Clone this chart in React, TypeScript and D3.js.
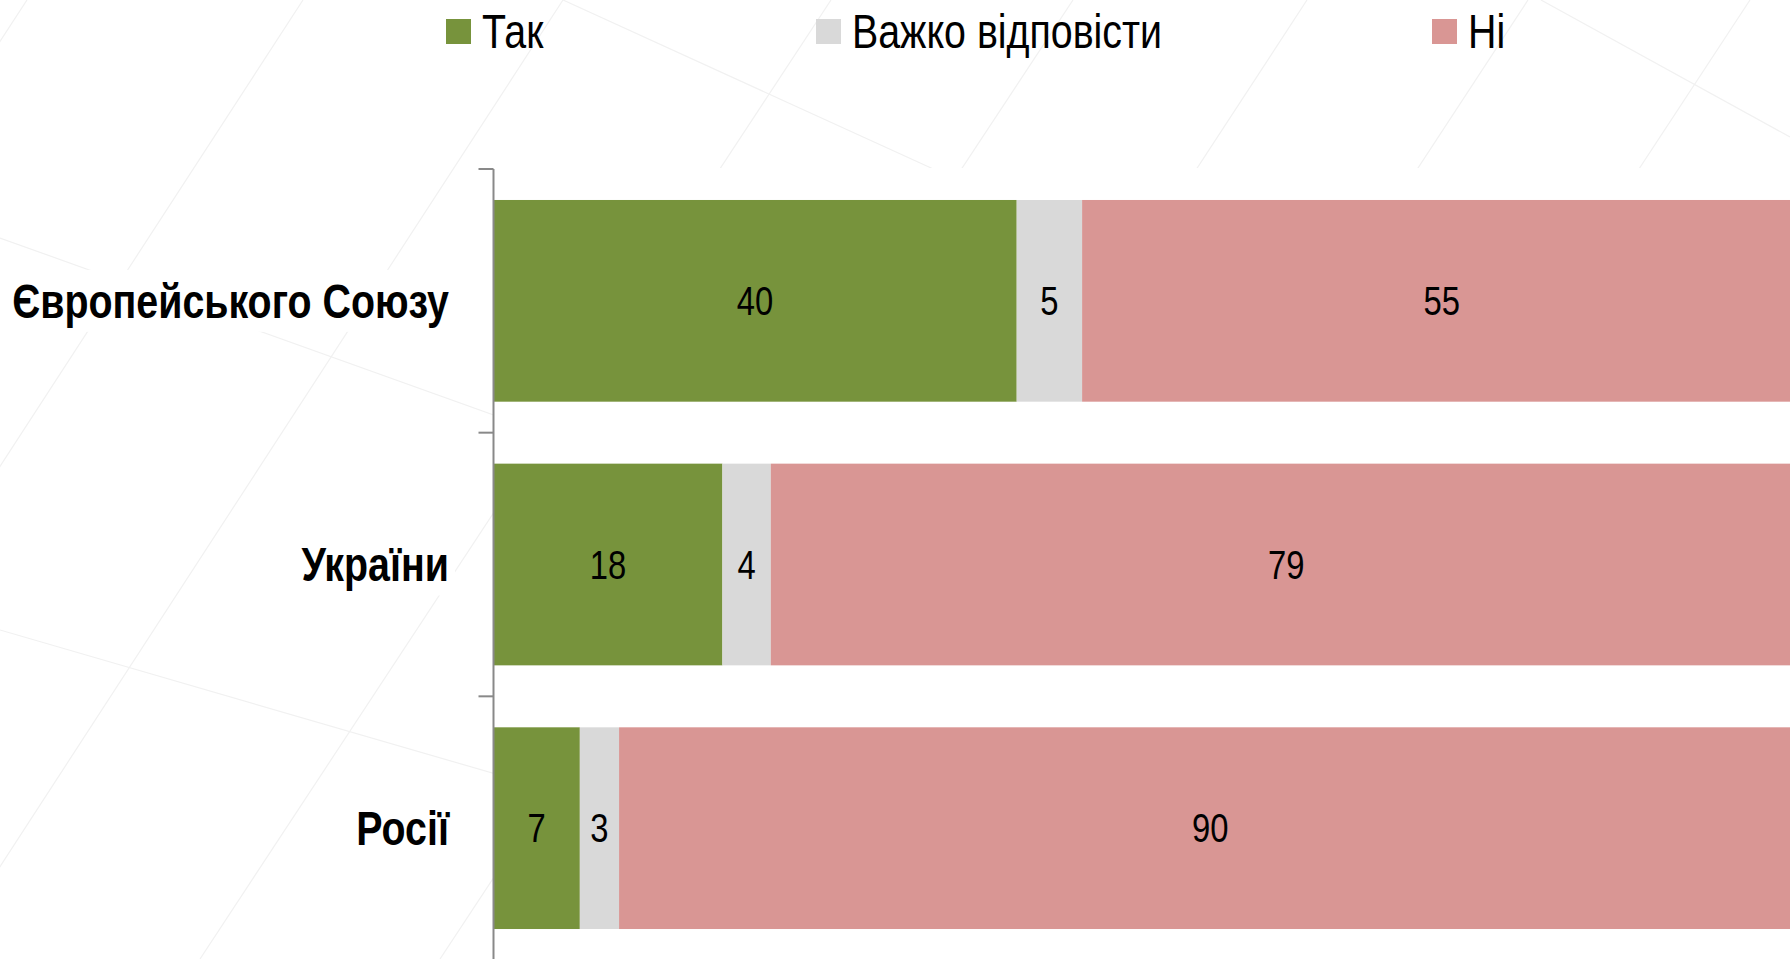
import * as d3 from 'd3'
import { useEffect, useRef } from 'react'

const width = 1790, height = 959

// categories (rows) and answer options (series)
const categories = ['Європейського Союзу', 'України', 'Росії']
const series = ['Так', 'Важко відповісти', 'Ні']
const yesValues = [40, 17.5, 6.6]
const hardValues = [5, 3.7, 3.0]
const noValues = [55, 78.8, 90.4]
const colors = ['#77933C', '#D9D9D9', '#D99694']

// faint decorative backdrop strokes
const backdrop = [
  [27, 0, -600, 959], [303, 0, -320, 959], [563, 0, -60, 959], [831, 0, 200, 959],
  [1073, 0, 440, 959], [1307, 0, 680, 959], [1528, 0, 900, 959], [1750, 0, 1120, 959],
  [0, 238, 1790, 880], [0, 630, 1790, 1150], [563, 0, 1790, 560], [1541, 0, 1790, 137],
]

const NARROW = 0.82
const font = "'Liberation Sans', Arial, sans-serif"

const chart = (svgNode: SVGSVGElement) => {
  const svg = d3.select(svgNode)
  svg.selectAll('*').remove()

  const rows = categories.map((c, i) => ({
    name: c,
    [series[0]]: yesValues[i],
    [series[1]]: hardValues[i],
    [series[2]]: noValues[i],
  }))
  const stacked = d3.stack<any>().keys(series)(rows)

  const x = d3.scaleLinear().domain([0, 100]).range([493.5, 493.5 + 1308])
  const y = d3.scaleBand().domain(categories).range([169, 960])
    .paddingInner(0.235).paddingOuter(0.1175)
  const color = d3.scaleOrdinal<string>().domain(series).range(colors)

  svg.append('rect').attr('width', width).attr('height', height).attr('fill', '#fff')

  svg.append('g')
    .attr('stroke', '#f1f1f1')
    .attr('stroke-width', 1.2)
    .selectAll('line')
    .data(backdrop)
    .join('line')
    .attr('x1', d => d[0]).attr('y1', d => d[1])
    .attr('x2', d => d[2]).attr('y2', d => d[3])

  // plot area is plain white
  svg.append('rect')
    .attr('x', x(0)).attr('y', 168)
    .attr('width', width).attr('height', height)
    .attr('fill', '#fff')

  const narrowText = (g: any, tx: number, ty: number) =>
    g.append('text').attr('transform', `translate(${tx},${ty}) scale(${NARROW},1)`)

  // bars
  const layer = svg.append('g')
    .selectAll('g')
    .data(stacked)
    .join('g')
    .attr('fill', d => color(d.key))

  layer.selectAll('rect')
    .data(d => d)
    .join('rect')
    .attr('x', d => x(d[0]))
    .attr('y', d => y(d.data.name)!)
    .attr('width', d => x(d[1]) - x(d[0]))
    .attr('height', y.bandwidth())

  const labels = svg.append('g')
    .attr('font-family', font)
    .attr('font-size', 40)
    .attr('text-anchor', 'middle')
    .attr('fill', '#000')
  stacked.forEach(s => {
    s.forEach(d => {
      narrowText(labels, (x(d[0]) + x(d[1])) / 2, y(d.data.name)! + y.bandwidth() / 2)
        .attr('dy', '0.35em')
        .text(Math.round(d[1] - d[0]))
    })
  })

  // category axis
  const axis = svg.append('g').attr('stroke', '#898989').attr('stroke-width', 2)
  axis.append('line')
    .attr('x1', x(0)).attr('x2', x(0))
    .attr('y1', y.range()[0]).attr('y2', y.range()[1])
  const step = y.step()
  axis.selectAll('line.tick')
    .data(d3.range(categories.length + 1))
    .join('line')
    .attr('class', 'tick')
    .attr('x1', x(0) - 15).attr('x2', x(0))
    .attr('y1', i => y.range()[0] + i * step)
    .attr('y2', i => y.range()[0] + i * step)

  const cat = svg.append('g')
    .attr('font-family', font)
    .attr('font-size', 48)
    .attr('font-weight', 'bold')
    .attr('text-anchor', 'end')
  categories.forEach(c => {
    const cy = y(c)! + y.bandwidth() / 2
    const t = narrowText(cat, 449, cy).attr('dy', '0.35em').text(c)
    const bb = (t.node() as SVGTextElement).getBBox()
    cat.insert('rect', 'text')
      .attr('x', 449 - bb.width * NARROW - 14)
      .attr('y', cy - 31)
      .attr('width', bb.width * NARROW + 20)
      .attr('height', 62)
      .attr('fill', '#fff')
  })

  // legend
  const legendX = [446, 816, 1432]
  const legend = svg.append('g')
    .attr('font-family', font)
    .attr('font-size', 48)
  series.forEach((s, i) => {
    legend.append('rect')
      .attr('x', legendX[i]).attr('y', 19)
      .attr('width', 25).attr('height', 25)
      .attr('fill', color(s))
    narrowText(legend, legendX[i] + 36, 48).text(s)
  })
}

export default function App() {
  const ref = useRef<SVGSVGElement>(null)
  useEffect(() => {
    if (ref.current) chart(ref.current)
  }, [])
  return (
    <svg
      ref={ref}
      width={width}
      height={height}
      style={{ position: 'absolute', left: 0, top: 0, display: 'block' }}
    />
  )
}
